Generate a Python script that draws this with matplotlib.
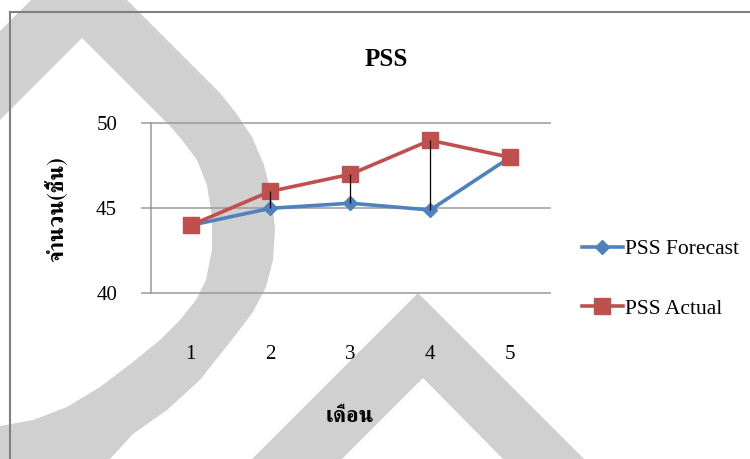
import matplotlib
matplotlib.use("Agg")
import matplotlib.pyplot as plt
from matplotlib.patches import Polygon, Rectangle

# ---------------------------------------------------------------
# Datos: pronóstico vs. real por mes
# ---------------------------------------------------------------
meses = [1, 2, 3, 4, 5]
pss_forecast = [44.0, 45.0, 45.3, 44.9, 48.0]
pss_actual = [44.0, 46.0, 47.0, 49.0, 48.0]
y_ticks = [40, 45, 50]

titulo = "PSS"
etiqueta_x = "เดือน"
etiqueta_y = "จำนวน(ชิ้น)"
nombres_series = ["PSS Forecast", "PSS Actual"]

azul = "#4F81BD"
rojo = "#C0504D"
gris_rejilla = "#9A9A9A"
gris_marca = "#D0D0D0"

W, H = 750, 459
fuente_lat = ["Liberation Serif", "FreeSerif"]
fuente_thai = ["FreeSerif", "Liberation Serif"]


def px(puntos):
    """Convierte puntos en píxeles (origen arriba-izquierda) a coords de figura."""
    return [(x / W, 1 - y / H) for x, y in puntos]


fig = plt.figure(figsize=(W / 100, H / 100), dpi=100)

# marca de agua gris de fondo
forma_arco = [(31, 0), (127, 0), (200, 73), (220, 93), (236, 113), (252, 137),
              (264, 165), (272, 197), (275, 230), (273, 260), (266, 287),
              (253, 312), (234, 337), (200, 380), (167, 410), (133, 434),
              (110, 459), (0, 459), (0, 426), (33, 420), (67, 407), (100, 387),
              (133, 362), (160, 340), (180, 320), (196, 300), (206, 280),
              (212, 250), (212, 217), (207, 185), (197, 160), (182, 140),
              (170, 126), (82, 38), (0, 120), (0, 31)]
forma_tri = [(418, 293), (584, 459), (503, 459), (423, 378), (342, 459), (252, 459)]
for forma in (forma_arco, forma_tri):
    fig.patches.append(Polygon(px(forma), closed=True, transform=fig.transFigure,
                               facecolor=gris_marca, edgecolor="none", zorder=-2))

# marco del área del gráfico
fig.patches.append(Rectangle((10 / W, 1 - 470 / H), 760 / W, 458 / H,
                             transform=fig.transFigure, fill=False,
                             edgecolor="#808080", linewidth=1.5, zorder=-1))

ax = fig.add_axes([150.7 / W, 1 - 293.3 / H, (550 - 150.7) / W, (293.3 - 123.3) / H])
ax.set_facecolor("none")

ax.plot(meses, pss_forecast, color=azul, linewidth=2.6, marker="D",
        markersize=7, label=nombres_series[0], zorder=3)
ax.plot(meses, pss_actual, color=rojo, linewidth=2.6, marker="s",
        markersize=11.5, label=nombres_series[1], zorder=4)

# líneas máximo-mínimo entre ambas series
ax.vlines(meses, pss_forecast, pss_actual, colors="black", linewidth=0.9, zorder=5)

ax.set_xlim(0.5, 5.5)
ax.set_ylim(40, 50)
ax.set_yticks(y_ticks)
ax.set_xticks(meses)
ax.yaxis.grid(True, color=gris_rejilla, linewidth=1.1)
for linea in ax.get_ygridlines():
    linea.set_clip_on(False)
ax.set_axisbelow(True)

for lado in ["top", "right", "bottom"]:
    ax.spines[lado].set_visible(False)
ax.spines["left"].set_color(gris_rejilla)
ax.spines["left"].set_linewidth(1.1)

ax.tick_params(axis="y", length=7.2, width=1.1, color=gris_rejilla, pad=17,
               labelsize=15)
ax.tick_params(axis="x", length=0, pad=37, labelsize=15)
for lbl in ax.get_xticklabels() + ax.get_yticklabels():
    lbl.set_family(fuente_lat)

fig.text(386 / W, 1 - 59 / H, titulo, ha="center", va="center",
         fontsize=18, fontweight="bold", family=fuente_lat)
fig.text(350 / W, 1 - 416 / H, etiqueta_x, ha="center", va="center",
         fontsize=16, fontweight="bold", family=fuente_thai)
fig.text(56 / W, 1 - 209 / H, etiqueta_y, ha="center", va="center",
         rotation=90, fontsize=16, fontweight="bold", family=fuente_thai)

fig.legend(loc="center left", bbox_to_anchor=(582 / W, 1 - 279 / H),
           frameon=False, prop={"family": fuente_lat, "size": 15.5},
           handlelength=1.9, handletextpad=0.1, labelspacing=1.85,
           borderpad=0, borderaxespad=0)

fig.savefig("out.png", dpi=100)
